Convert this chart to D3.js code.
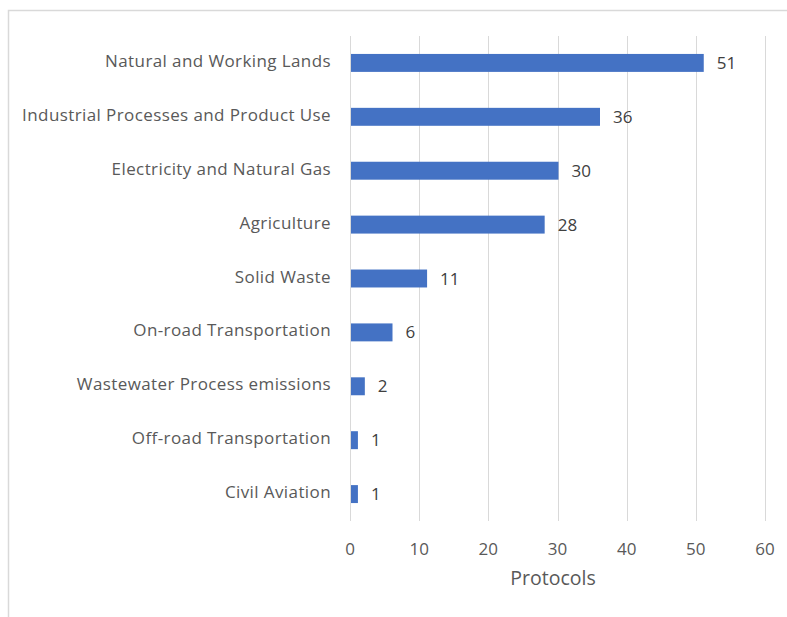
<!DOCTYPE html>
<html><head><meta charset="utf-8">
<script src="https://cdn.jsdelivr.net/npm/d3@7"></script>
<style>body{margin:0;background:#fff;} text{font-family:"Open Sans",sans-serif;}</style>
</head><body>
<svg id="c" width="787" height="617"></svg>
<script>
const categories = ["Natural and Working Lands","Industrial Processes and Product Use","Electricity and Natural Gas","Agriculture","Solid Waste","On-road Transportation","Wastewater Process emissions","Off-road Transportation","Civil Aviation"];
const values = [51,36,30,28,11,6,2,1,1];
const xTicks = [0,10,20,30,40,50,60];
const xTitle = "Protocols";

const svg = d3.select("#c");
svg.append("rect").attr("x",8.5).attr("y",10.5).attr("width",800).attr("height",640)
  .attr("fill","#fff").attr("stroke","#d9d9d9").attr("stroke-width",1.5);

const x = d3.scaleLinear().domain([0,60]).range([350,765]);
const y = d3.scaleBand().domain(categories).range([36,521]).paddingInner(0.667).paddingOuter(0.333);

svg.append("g").selectAll("line").data(xTicks).join("line")
  .attr("x1",d=>Math.round(x(d))+0.5).attr("x2",d=>Math.round(x(d))+0.5)
  .attr("y1",36).attr("y2",521).attr("stroke","#d9d9d9").attr("stroke-width",1);

svg.append("g").selectAll("rect").data(values).join("rect")
  .attr("x",x(0)+1).attr("y",(d,i)=>y(categories[i]))
  .attr("width",d=>x(d)-x(0)).attr("height",y.bandwidth())
  .attr("fill","#4472C4");

svg.append("g").selectAll("text").data(values).join("text")
  .attr("x",d=>x(d)+14).attr("y",(d,i)=>y(categories[i])+y.bandwidth()/2+6)
  .attr("font-size",17).attr("fill","#404040").text(d=>d);

svg.append("g").selectAll("text").data(categories).join("text")
  .attr("x",331).attr("y",d=>y(d)+y.bandwidth()/2+4)
  .attr("text-anchor","end").attr("font-size",17).attr("letter-spacing",0.4).attr("fill","#595959").text(d=>d);

svg.append("g").selectAll("text").data(xTicks).join("text")
  .attr("x",d=>x(d)).attr("y",555).attr("text-anchor","middle")
  .attr("font-size",17).attr("fill","#595959").text(d=>d);

svg.append("text").attr("x",553).attr("y",585).attr("text-anchor","middle")
  .attr("font-size",19.5).attr("fill","#595959").text(xTitle);
</script>
</body></html>
